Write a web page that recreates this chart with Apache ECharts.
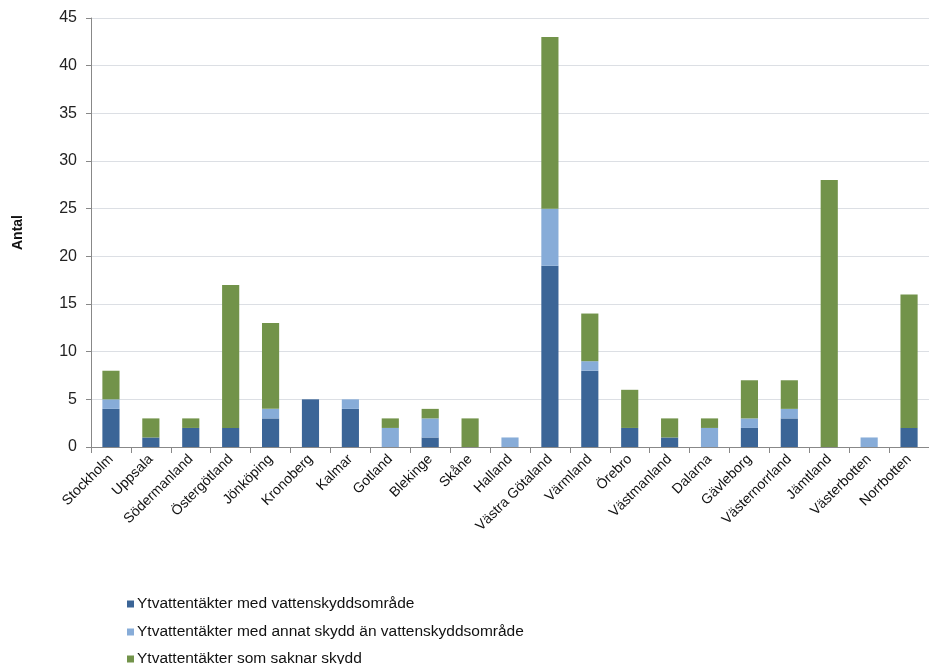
<!DOCTYPE html>
<html><head><meta charset="utf-8">
<script src="https://cdn.jsdelivr.net/npm/echarts@6/dist/echarts.min.js"></script>
<style>html,body{margin:0;padding:0;background:#fff}#c{width:929px;height:664px}</style>
</head><body><div id="c"></div>
<script>
const categories = ["Stockholm","Uppsala","Södermanland","Östergötland","Jönköping","Kronoberg","Kalmar","Gotland","Blekinge","Skåne","Halland","Västra Götaland","Värmland","Örebro","Västmanland","Dalarna","Gävleborg","Västernorrland","Jämtland","Västerbotten","Norrbotten"];
const medVattenskydd = [4,1,2,2,3,5,4,0,1,0,0,19,8,2,1,0,2,3,0,0,2];
const annatSkydd =     [1,0,0,0,1,0,1,2,2,0,1,6,1,0,0,2,1,1,0,1,0];
const saknarSkydd =    [3,2,1,15,9,0,0,1,1,3,0,18,5,4,2,1,4,3,28,0,14];
const seriesNames = ["Ytvattentäkter med vattenskyddsområde","Ytvattentäkter med annat skydd än vattenskyddsområde","Ytvattentäkter som saknar skydd"];
const yTicks = [0,5,10,15,20,25,30,35,40,45];

const chart = echarts.init(document.getElementById('c'));
const colors = ['#3b6597','#87acd8','#72934a'];
const mk = (name, data, i) => ({
  name, type:'bar', stack:'s', data, barWidth:'43%',
  itemStyle:{color:colors[i]}, emphasis:{disabled:true}
});
const legendTops = [596, 624, 651];
const legends = seriesNames.map((n,i)=>({
  orient:'vertical', left:127, top:legendTops[i], padding:0, itemWidth:7, itemHeight:7,
  icon:'rect', data:[n], selectedMode:false,
  textStyle:{fontFamily:'Liberation Sans Narrow, Liberation Sans, sans-serif', fontSize:15.5, color:'#111', padding:[0,0,0,-2]}
}));
chart.setOption({
  animation:false,
  textStyle:{fontFamily:'Liberation Sans, Arial, sans-serif'},
  grid:{left:91, top:18, right:-2, bottom:217},
  legend:legends,
  xAxis:{
    type:'category', data:categories,
    axisLine:{lineStyle:{color:'#888'}},
    axisTick:{show:true, length:6, lineStyle:{color:'#888'}},
    axisLabel:{rotate:45, fontSize:14, color:'#111', margin:10, interval:0}
  },
  yAxis:{
    type:'value', min:0, max:45, interval:5,
    name:'Antal', nameLocation:'middle', nameGap:66, nameRotate:90,
    nameTextStyle:{fontWeight:'bold', fontSize:14, color:'#111'},
    axisLine:{show:true, lineStyle:{color:'#888'}},
    axisTick:{show:true, length:5, lineStyle:{color:'#888'}},
    axisLabel:{fontSize:16, color:'#222', margin:14, formatter:v=>yTicks.includes(v)?String(v):''},
    splitLine:{lineStyle:{color:'#dcdfe4'}}
  },
  series:[mk(seriesNames[0],medVattenskydd,0),mk(seriesNames[1],annatSkydd,1),mk(seriesNames[2],saknarSkydd,2)]
});
</script></body></html>
